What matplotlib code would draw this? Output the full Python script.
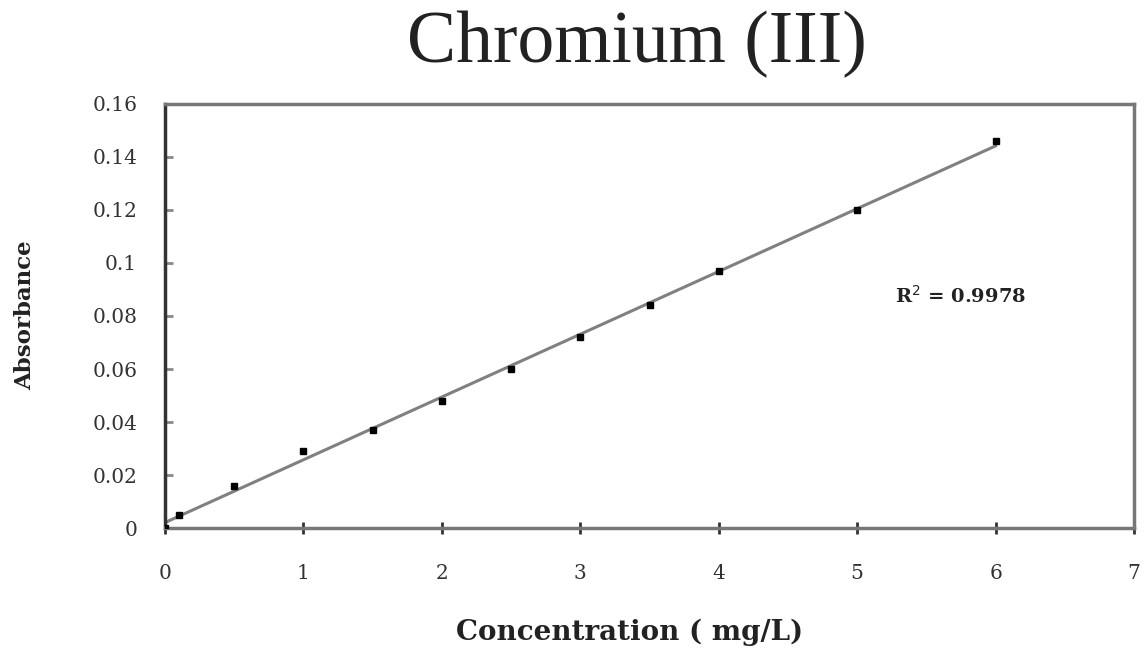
import numpy as np
import matplotlib
matplotlib.use("Agg")
import matplotlib.pyplot as plt

conc = [0, 0.1, 0.5, 1, 1.5, 2, 2.5, 3, 3.5, 4, 5, 6]
absorb = [0.000, 0.005, 0.016, 0.029, 0.037, 0.048, 0.060, 0.072, 0.084, 0.097, 0.120, 0.146]
x_ticks = [0, 1, 2, 3, 4, 5, 6, 7]
y_ticks = [0, 0.02, 0.04, 0.06, 0.08, 0.1, 0.12, 0.14, 0.16]
y_tick_labels = ["0", "0.02", "0.04", "0.06", "0.08", "0.1", "0.12", "0.14", "0.16"]
r2_label = "R$^2$ = 0.9978"

fig = plt.figure(figsize=(11.45, 6.49), dpi=100)
ax = fig.add_axes([0.1441, 0.1864, 0.8463, 0.6534])

slope, intercept = np.polyfit(conc, absorb, 1)
xf = np.array([conc[0], conc[-1]])
ax.plot(xf, slope * xf + intercept, color="#808080", lw=2.2, zorder=2)
ax.plot(conc, absorb, "s", color="black", ms=5, zorder=3)

ax.set_xlim(0, 7)
ax.set_ylim(0, 0.16)
ax.set_xticks(x_ticks)
ax.set_yticks(y_ticks)
ax.set_yticklabels(y_tick_labels)

for lab in ax.get_xticklabels() + ax.get_yticklabels():
    lab.set_fontfamily("DejaVu Serif")
    lab.set_fontsize(14.5)
    lab.set_color("#333333")

ax.tick_params(axis="y", direction="in", length=6, width=2, color="#888888", pad=20)
ax.tick_params(axis="x", direction="inout", length=8, width=2, color="#333333", pad=22)

for s in ["top", "right", "bottom"]:
    ax.spines[s].set_color("#777777")
    ax.spines[s].set_linewidth(2.5)
ax.spines["left"].set_color("#333333")
ax.spines["left"].set_linewidth(2.5)

ax.text(5.27, 0.0875, r2_label, family="DejaVu Serif", fontweight="bold",
        fontsize=14, va="center", ha="left", color="#222222")

fig.text(0.556, 0.932, "Chromium (III)", family="Liberation Serif", fontsize=53,
         ha="center", va="center", color="#222222")
fig.text(0.550, 0.026, "Concentration ( mg/L)", family="DejaVu Serif", fontweight="bold",
         fontsize=20, ha="center", va="center", color="#222222")
fig.text(0.022, 0.515, "Absorbance", family="DejaVu Serif", fontweight="bold",
         fontsize=16.5, ha="center", va="center", rotation=90, color="#222222")

fig.savefig("out.png", dpi=100)
